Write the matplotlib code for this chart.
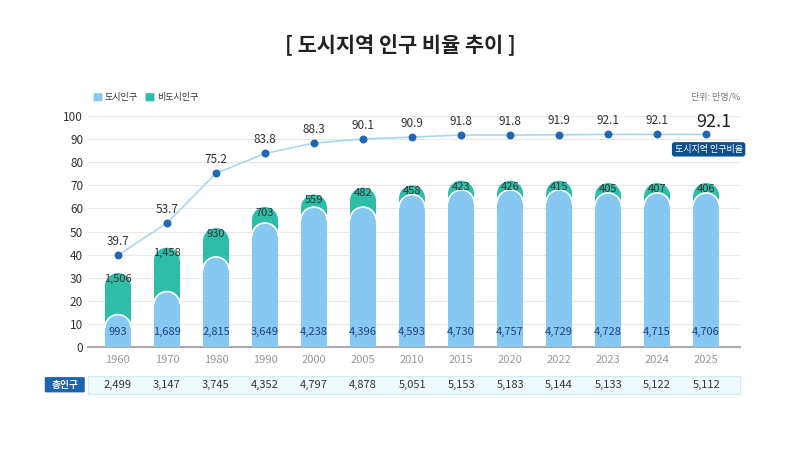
import matplotlib
matplotlib.use("Agg")
import matplotlib.pyplot as plt
from matplotlib.patches import FancyBboxPatch, Ellipse

plt.rcParams['font.family'] = ['Noto Sans CJK KR', 'DejaVu Sans']

years = ['1960','1970','1980','1990','2000','2005','2010','2015','2020','2022','2023','2024','2025']
urban = [993,1689,2815,3649,4238,4396,4593,4730,4757,4729,4728,4715,4706]
nonurban = [1506,1458,930,703,559,482,458,423,426,415,405,407,406]
total = [2499,3147,3745,4352,4797,4878,5051,5153,5183,5144,5133,5122,5112]
ratio = [39.7,53.7,75.2,83.8,88.3,90.1,90.9,91.8,91.8,91.9,92.1,92.1,92.1]
# displayed bar heights on the 0-100 axis
urban_h = [14,24,39,53.7,60.6,60.6,66,68,68,68,66.7,66.7,66.7]
stack_h = [32,43,51.5,60.6,66,69,70,72,72,72,71,71,71]

fig = plt.figure(figsize=(8,4.5), dpi=100)
ax = fig.add_axes([0.11, 0.229, 0.815, 0.513])
ax.set_xlim(-0.61, 12.69)
ax.set_ylim(0, 100)
x = list(range(len(years)))
bw = 0.53
r = 5.6
green = '#2dbda8'; blue = '#86c8f2'
for i in x:
    ax.bar(i, stack_h[i]-r, width=bw, color=green, zorder=2, linewidth=0)
    ax.add_patch(Ellipse((i, stack_h[i]-r), bw, 2*r, fc=green, ec='none', zorder=2))
    ax.add_patch(Ellipse((i, urban_h[i]-r), bw, 2*r, fc=blue, ec='white', lw=1.2, zorder=3))
    ax.bar(i, urban_h[i]-r, width=bw, color=blue, zorder=3.5, linewidth=0)
    ax.text(i, 6.5, f'{urban[i]:,}', ha='center', va='center', fontsize=8, color='#1f3f8a', zorder=5)
    ax.text(i, stack_h[i]-2.5, f'{nonurban[i]:,}', ha='center', va='center', fontsize=8, color='#333333', zorder=5)
    lab = f'{ratio[i]:.1f}'
    if i == len(x)-1:
        ax.text(i+0.15, ratio[i]+5.5, lab, ha='center', va='center', fontsize=13, color='#222222')
    else:
        ax.text(i, ratio[i]+6, lab, ha='center', va='center', fontsize=8.5, color='#333333')
ax.plot(x, ratio, color='#a9d6ee', lw=1.2, zorder=4)
ax.scatter(x, ratio, s=22, color='#1f66b3', zorder=5)
ax.text(12.05, ratio[-1]-6.5, '도시지역 인구비율', ha='center', va='center', fontsize=6.5, color='white',
        bbox=dict(boxstyle='round,pad=0.3', fc='#0e4f8e', ec='none'), zorder=6)

ax.set_yticks(range(0,101,10))
ax.tick_params(axis='y', length=0, labelsize=8.5, labelcolor='#333333')
ax.set_xticks(x)
ax.set_xticklabels(years)
ax.tick_params(axis='x', length=0, labelsize=8, labelcolor='#999999', pad=6)
ax.grid(axis='y', color='#e8e8e8', lw=0.8, zorder=0)
for s in ['top','right','left']:
    ax.spines[s].set_visible(False)
ax.spines['bottom'].set_color('#aaaaaa'); ax.spines['bottom'].set_linewidth(1.5)

fig.text(0.5, 0.9, '[ 도시지역 인구 비율 추이 ]', ha='center', va='center', fontsize=15, fontweight='bold', color='#222222')
# legend
fig.patches.append(FancyBboxPatch((0.118, 0.776), 0.009, 0.016, boxstyle='round,pad=0.001', fc=blue, ec='none', transform=fig.transFigure))
fig.text(0.131, 0.784, '도시인구', fontsize=6.5, va='center', color='#333333')
fig.patches.append(FancyBboxPatch((0.183, 0.776), 0.009, 0.016, boxstyle='round,pad=0.001', fc=green, ec='none', transform=fig.transFigure))
fig.text(0.196, 0.784, '비도시인구', fontsize=6.5, va='center', color='#333333')
fig.text(0.925, 0.784, '단위: 만명/%', fontsize=6.5, va='center', ha='right', color='#777777')

# total population row
fig.patches.append(plt.Rectangle((0.11, 0.125), 0.815, 0.04, fc='#eefafc', ec='#cdeef3', lw=0.8, transform=fig.transFigure))
fig.patches.append(FancyBboxPatch((0.058, 0.13), 0.046, 0.03, boxstyle='round,pad=0.002', fc='#1d63b0', ec='none', transform=fig.transFigure))
fig.text(0.081, 0.145, '총인구', fontsize=7, color='white', ha='center', va='center', fontweight='bold')
for i in x:
    xf = 0.11 + 0.815*(i+0.61)/13.3
    fig.text(xf, 0.145, f'{total[i]:,}', fontsize=8, ha='center', va='center', color='#333333')

fig.savefig('out.png', dpi=100, facecolor='white')
